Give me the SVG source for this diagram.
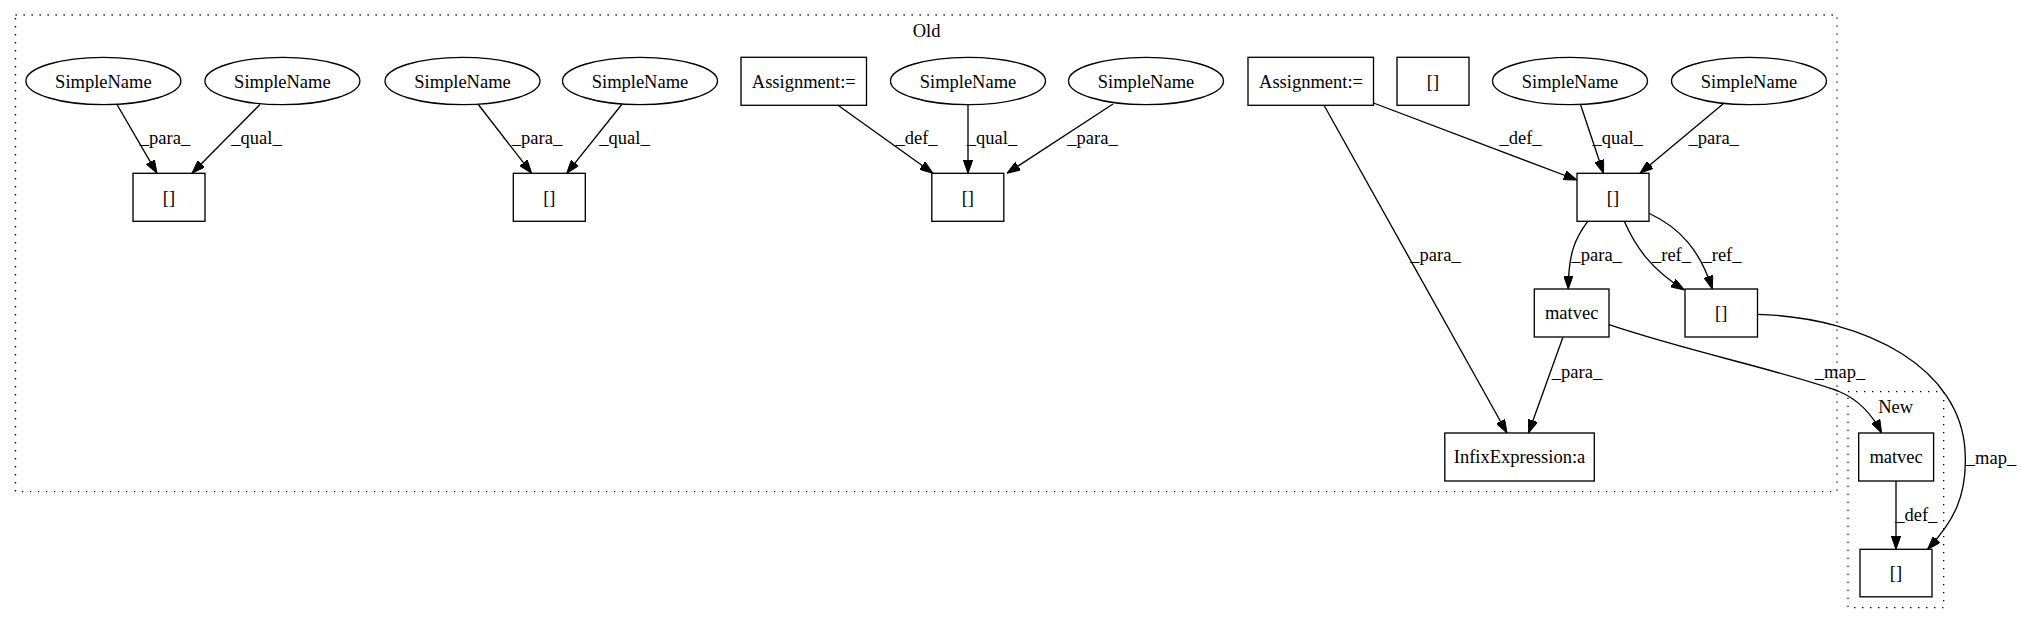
<svg xmlns="http://www.w3.org/2000/svg" width="2021" height="624" viewBox="0 0 2021 624">
<style>
.n{fill:none;stroke:#000;stroke-width:1.33}
.t{font-family:"Liberation Serif","Times New Roman",serif;font-size:18.5px;text-anchor:middle;fill:#000}
.e{fill:none;stroke:#000;stroke-width:1.33;marker-end:url(#ah)}
.c{fill:none;stroke:#000;stroke-width:1.33;stroke-dasharray:1.33,6.67}
</style>
<defs>
<marker id="ah" viewBox="0 0 13.3 9.4" refX="13.3" refY="4.7" markerWidth="13.3" markerHeight="9.4" markerUnits="userSpaceOnUse" orient="auto">
<path d="M0,0 L13.3,4.7 L0,9.4 z" fill="#000" stroke="#000" stroke-width="1"/>
</marker>
</defs>
<rect width="2021" height="624" fill="#fff"/>
<g id="cluster_old">
<rect class="c" x="15.5" y="15" width="1821.5" height="476.7"/>
<text class="t" x="926.6" y="37">Old</text>
</g>
<g id="cluster_new">
<rect class="c" x="1848" y="391.7" width="95.7" height="216"/>
<text class="t" x="1895.7" y="413">New</text>
</g>
<g id="sn1"><ellipse class="n" cx="103.4" cy="81" rx="77.5" ry="23.7"/><text class="t" x="103.4" y="87.5">SimpleName</text></g>
<g id="sn2"><ellipse class="n" cx="282.4" cy="81" rx="77.5" ry="23.7"/><text class="t" x="282.4" y="87.5">SimpleName</text></g>
<g id="sn3"><ellipse class="n" cx="462.5" cy="81" rx="77.5" ry="23.7"/><text class="t" x="462.5" y="87.5">SimpleName</text></g>
<g id="sn4"><ellipse class="n" cx="640" cy="81" rx="77.5" ry="23.7"/><text class="t" x="640" y="87.5">SimpleName</text></g>
<g id="assign1"><rect class="n" x="741" y="57.3" width="125.5" height="48"/><text class="t" x="803.8" y="87.5">Assignment:=</text></g>
<g id="sn5"><ellipse class="n" cx="968" cy="81" rx="77.5" ry="23.7"/><text class="t" x="968" y="87.5">SimpleName</text></g>
<g id="sn6"><ellipse class="n" cx="1146" cy="81" rx="77.5" ry="23.7"/><text class="t" x="1146" y="87.5">SimpleName</text></g>
<g id="assign2"><rect class="n" x="1248" y="57.3" width="125.5" height="48"/><text class="t" x="1311" y="87.5">Assignment:=</text></g>
<g id="arr_iso"><rect class="n" x="1397" y="57.3" width="72" height="48"/><text class="t" x="1433" y="87.5">[]</text></g>
<g id="sn7"><ellipse class="n" cx="1570" cy="81" rx="77.5" ry="23.7"/><text class="t" x="1570" y="87.5">SimpleName</text></g>
<g id="sn8"><ellipse class="n" cx="1749" cy="81" rx="77.5" ry="23.7"/><text class="t" x="1749" y="87.5">SimpleName</text></g>
<g id="arr1"><rect class="n" x="133" y="173.3" width="72" height="48"/><text class="t" x="169" y="203.5">[]</text></g>
<g id="arr2"><rect class="n" x="513.3" y="173.3" width="72" height="48"/><text class="t" x="549.3" y="203.5">[]</text></g>
<g id="arr3"><rect class="n" x="931.8" y="173.3" width="72" height="48"/><text class="t" x="967.8" y="203.5">[]</text></g>
<g id="arr_main"><rect class="n" x="1577" y="173.3" width="72" height="48"/><text class="t" x="1613" y="203.5">[]</text></g>
<g id="matvec_old"><rect class="n" x="1534.3" y="289" width="74.7" height="48"/><text class="t" x="1571.7" y="319.3">matvec</text></g>
<g id="arr_ref"><rect class="n" x="1685" y="289" width="72.5" height="48"/><text class="t" x="1721.2" y="319.3">[]</text></g>
<g id="infix"><rect class="n" x="1444.8" y="433" width="149.5" height="48"/><text class="t" x="1519.5" y="463.3">InfixExpression:a</text></g>
<g id="matvec_new"><rect class="n" x="1858.7" y="433" width="74.9" height="48"/><text class="t" x="1896.1" y="463.3">matvec</text></g>
<g id="arr_new"><rect class="n" x="1860" y="549.3" width="72" height="47.5"/><text class="t" x="1896" y="579.3">[]</text></g>
<g id="edges">
<path class="e" d="M117,104.5 L157,173.3"/>
<text class="t" x="165" y="144">_para_</text>
<path class="e" d="M260,104.5 L192,173.3"/>
<text class="t" x="256.5" y="144">_qual_</text>
<path class="e" d="M478.3,104.5 L531.7,173.3"/>
<text class="t" x="537" y="144">_para_</text>
<path class="e" d="M621.7,104.5 L566.7,173.3"/>
<text class="t" x="624.5" y="144">_qual_</text>
<path class="e" d="M838,105.3 L933,173.3"/>
<text class="t" x="916.5" y="144">_def_</text>
<path class="e" d="M968,104.7 L968,173.3"/>
<text class="t" x="992" y="144">_qual_</text>
<path class="e" d="M1113,104 L1007,173.3"/>
<text class="t" x="1092.5" y="144">_para_</text>
<path class="e" d="M1373.5,103 L1577,180"/>
<text class="t" x="1520.5" y="144">_def_</text>
<path class="e" d="M1580.5,104.5 L1603.5,173.3"/>
<text class="t" x="1617.7" y="144">_qual_</text>
<path class="e" d="M1723,104 L1640,173.3"/>
<text class="t" x="1713.7" y="144">_para_</text>
<path class="e" d="M1324,105.3 L1507,433"/>
<text class="t" x="1435.5" y="261">_para_</text>
<path class="e" d="M1587.7,221.3 C1576,237 1568.3,252 1568.3,289"/>
<text class="t" x="1596.7" y="261">_para_</text>
<path class="e" d="M1624.3,221.3 C1636,248 1652,270 1684.3,290"/>
<text class="t" x="1671.5" y="261">_ref_</text>
<path class="e" d="M1649.5,213.5 C1680,228 1700,250 1712.3,289"/>
<text class="t" x="1722" y="261">_ref_</text>
<path class="e" d="M1563,337 L1528.5,433"/>
<text class="t" x="1577" y="378">_para_</text>
<path class="e" d="M1609,324.7 C1690,352 1780,370 1838,391 C1860,400 1873,416 1881.6,433"/>
<text class="t" x="1840" y="378">_map_</text>
<path class="e" d="M1757.5,314.3 C1870,318 1960,370 1965,450 C1968,498 1952,523 1927.6,549.3"/>
<text class="t" x="1991" y="464">_map_</text>
<path class="e" d="M1896,481 L1896,549.3"/>
<text class="t" x="1916.3" y="521">_def_</text>
</g>
</svg>
